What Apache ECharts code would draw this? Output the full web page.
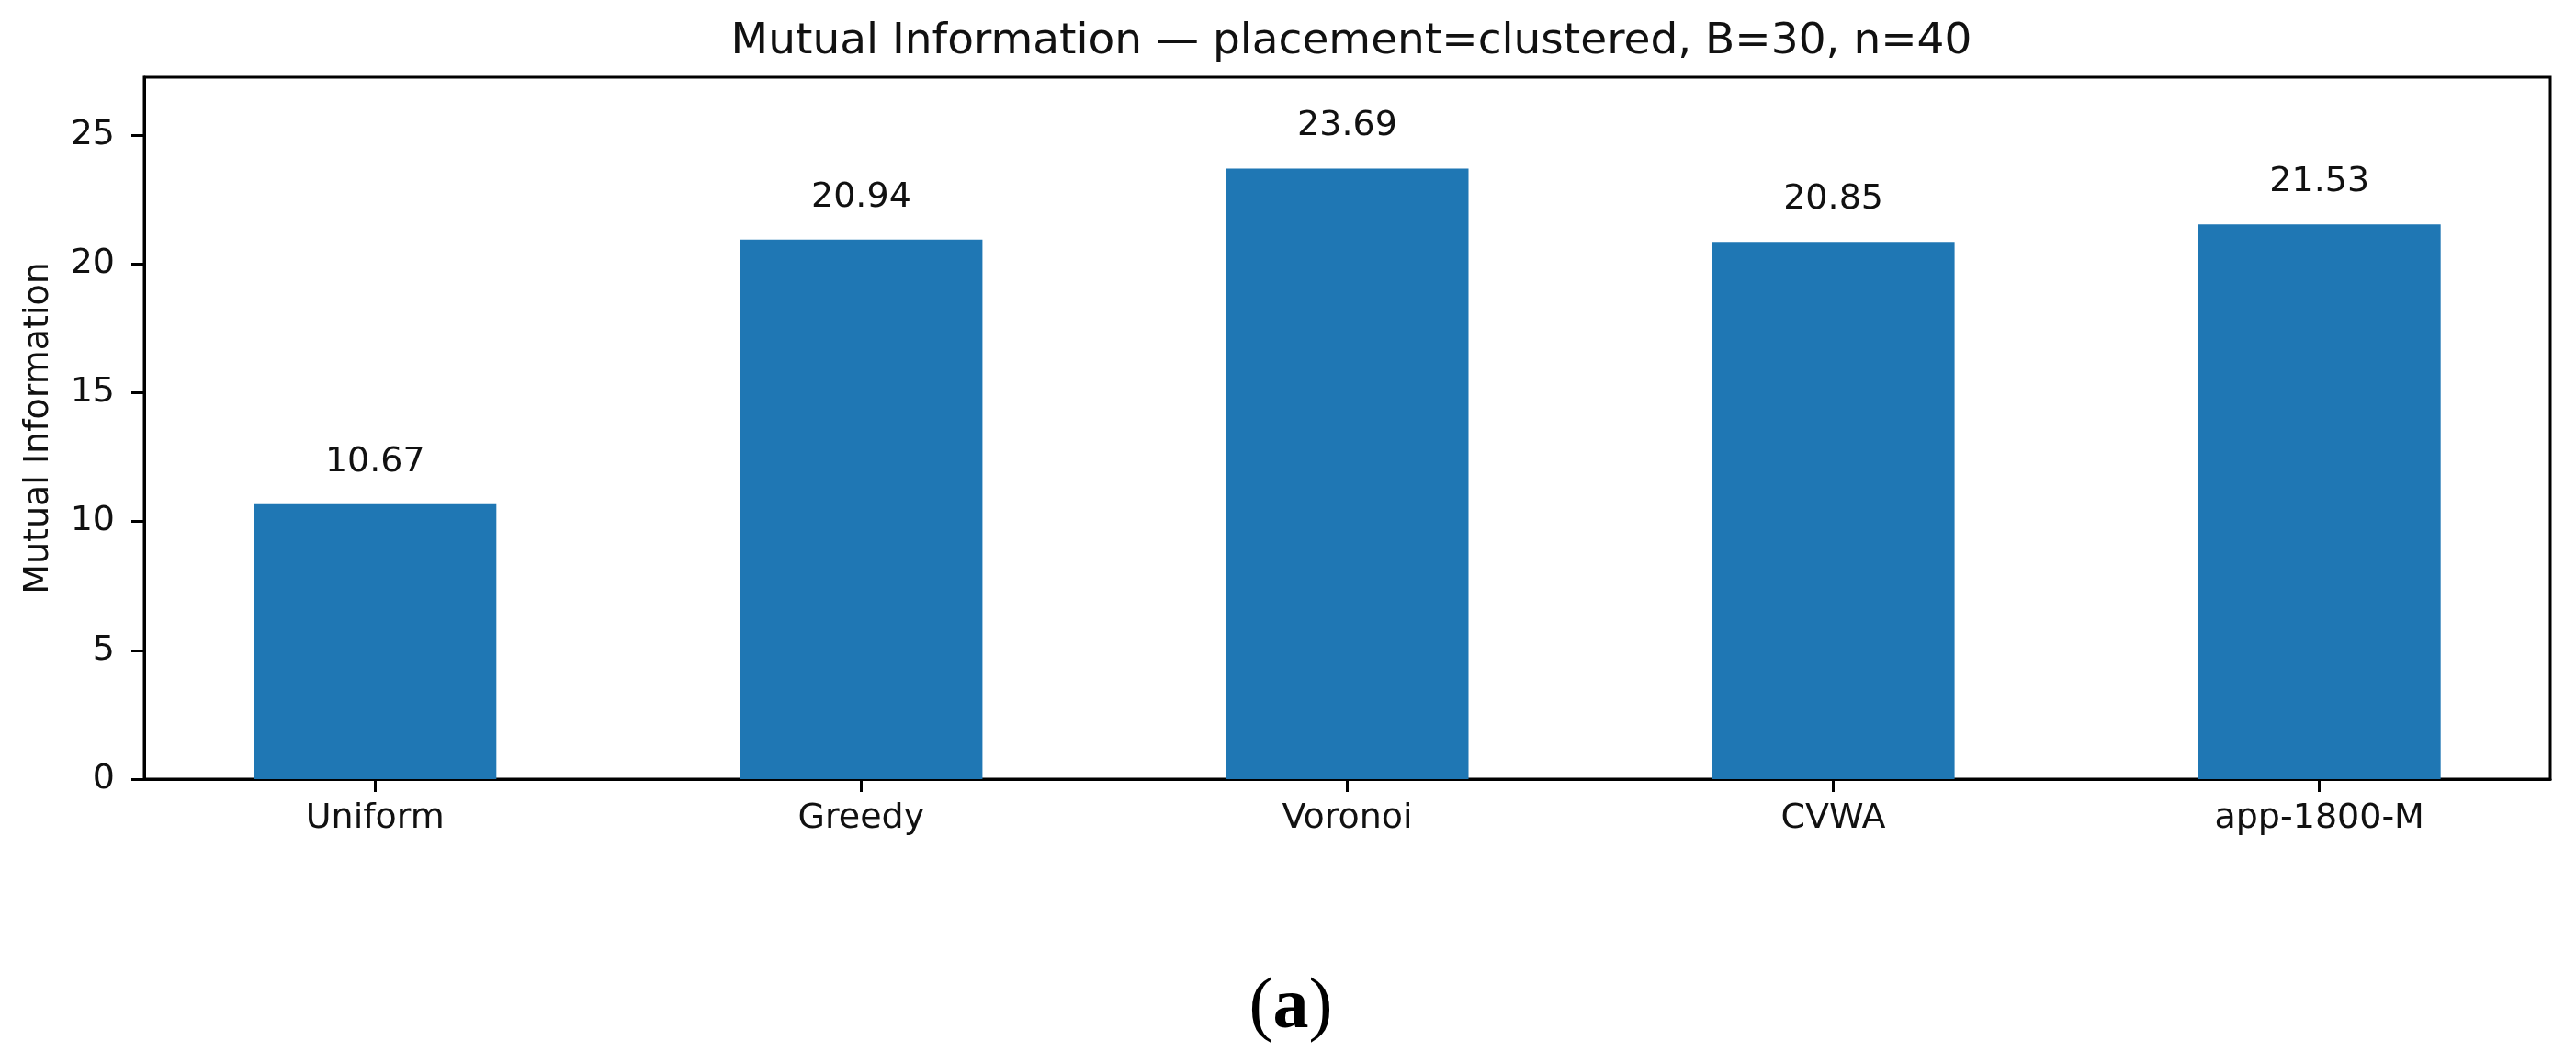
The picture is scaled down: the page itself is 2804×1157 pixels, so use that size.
<!DOCTYPE html>
<html>
<head>
<meta charset="utf-8">
<title>Mutual Information</title>
<script src="https://cdn.jsdelivr.net/npm/echarts@6/dist/echarts.min.js"></script>
<style>
  html, body { margin: 0; padding: 0; background: #fff; }
  #chart { width: 2804px; height: 1157px; }
</style>
</head>
<body>
<div id="chart"></div>
<script>
// data
const methods = ["Uniform", "Greedy", "Voronoi", "CVWA", "app-1800-M"];
const miValues = [10.67, 20.94, 23.69, 20.85, 21.53];
const yTicks = [0, 5, 10, 15, 20, 25];

const chart = echarts.init(document.getElementById("chart"));

const positions = methods.map((_, i) => i);
const textColor = "#111";
const font = "DejaVu Sans";

const option = {
  backgroundColor: "#fff",
  animation: false,
  title: [
    {
      text: "Mutual Information — placement=clustered, B=30, n=40",
      left: 1466,
      top: 17,
      textAlign: "center",
      textStyle: { fontFamily: font, fontSize: 47, fontWeight: "normal", color: textColor }
    },
    {
      // caption under the figure: "(a)" with a bold letter
      text: "{p|(}{b|a}{p|)}",
      left: 1400,
      top: 1054,
      textAlign: "center",
      textStyle: {
        fontWeight: "normal",
        rich: {
          p: { fontFamily: "Liberation Serif", fontSize: 78, fontWeight: "normal", color: "#000" },
          b: { fontFamily: "Liberation Serif", fontSize: 78, fontWeight: "bold", color: "#000" }
        }
      }
    }
  ],
  grid: {
    left: 157,
    right: 28,
    top: 84,
    bottom: 309,
    show: true,
    borderColor: "#000",
    borderWidth: 3,
    backgroundColor: "transparent"
  },
  xAxis: {
    type: "value",
    min: -0.475,
    max: 4.475,
    splitLine: { show: false },
    axisLine: { show: true, lineStyle: { color: "#000", width: 3 } },
    axisTick: {
      show: true,
      customValues: positions,
      length: 14,
      lineStyle: { color: "#000", width: 3 }
    },
    axisLabel: {
      customValues: positions,
      margin: 24,
      fontFamily: font,
      fontSize: 38,
      color: textColor,
      formatter: (v) => methods[Math.round(v)] || ""
    }
  },
  yAxis: {
    type: "value",
    min: 0,
    max: 27.24,
    name: "Mutual Information",
    nameLocation: "middle",
    nameGap: 96,
    nameTextStyle: { fontFamily: font, fontSize: 38, color: textColor },
    splitLine: { show: false },
    axisLine: { show: true, onZero: false, lineStyle: { color: "#000", width: 3 } },
    axisTick: {
      show: true,
      customValues: yTicks,
      length: 14,
      lineStyle: { color: "#000", width: 3 }
    },
    axisLabel: {
      customValues: yTicks,
      margin: 32,
      fontFamily: font,
      fontSize: 38,
      color: textColor
    }
  },
  series: [
    {
      type: "bar",
      barWidth: 264,
      data: methods.map((_, i) => [positions[i], miValues[i]]),
      itemStyle: { color: "#1f77b4" },
      label: {
        show: true,
        position: "top",
        distance: 27,
        fontFamily: font,
        fontSize: 38,
        color: textColor,
        formatter: (p) => p.value[1].toFixed(2)
      }
    }
  ]
};

chart.setOption(option);
</script>
</body>
</html>
